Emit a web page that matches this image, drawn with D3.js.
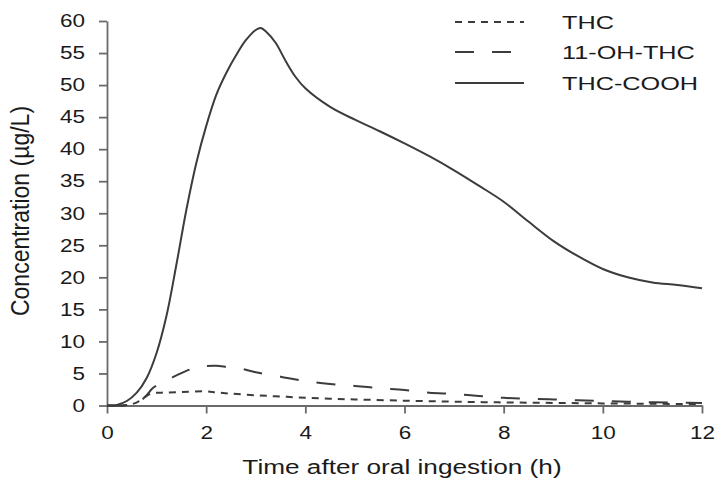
<!DOCTYPE html>
<html>
<head>
<meta charset="utf-8">
<script src="https://cdn.jsdelivr.net/npm/d3@7"></script>
<style>
  body { margin: 0; background: #fff; }
  text { font-family: "Liberation Sans", Arial, sans-serif; fill: #1a1a1a; }
</style>
</head>
<body>
<svg id="chart" width="715" height="479"></svg>
<script>
// THC-COOH (solid)
const coohTime = [0, 0.2, 0.4, 0.6, 0.8, 1.0, 1.2, 1.4, 1.6, 1.8, 2.0, 2.2, 2.4, 2.6, 2.8, 3.0, 3.1, 3.2, 3.4, 3.6, 3.8, 4.0, 4.5, 5, 5.5, 6, 6.5, 7, 7.5, 8, 8.5, 9, 9.5, 10, 10.5, 11, 11.5, 12];
const coohConc = [0, 0.1, 0.7, 2.0, 4.3, 8.2, 14.0, 22.0, 30.5, 37.8, 43.6, 48.4, 51.8, 54.6, 57.0, 58.6, 58.9, 58.4, 56.6, 53.8, 51.3, 49.5, 46.6, 44.6, 42.8, 40.9, 38.9, 36.7, 34.3, 31.8, 28.7, 25.7, 23.3, 21.3, 20.0, 19.2, 18.8, 18.3];

// THC (short dashes)
const thcTime = [0, 0.3, 0.5, 0.65, 0.8, 0.9, 1.1, 1.5, 2.0, 2.2, 2.5, 3, 3.5, 4, 4.5, 5, 6, 7, 8, 9, 10, 11, 12];
const thcConc = [0, 0, 0.2, 0.7, 1.5, 1.9, 2.0, 2.1, 2.2, 2.05, 1.85, 1.6, 1.4, 1.2, 1.05, 0.95, 0.75, 0.6, 0.48, 0.4, 0.33, 0.27, 0.2];

// 11-OH-THC (long dashes)
const ohTime = [0, 0.3, 0.5, 0.65, 0.8, 0.92, 1.1, 1.3, 1.6, 1.8, 2.0, 2.2, 2.4, 2.7, 3.0, 3.5, 4.0, 4.5, 5, 5.5, 6, 6.5, 7, 7.5, 8, 8.5, 9, 9.5, 10, 10.5, 11, 11.5, 12];
const ohConc = [0, 0, 0.2, 0.6, 1.6, 2.7, 3.5, 4.3, 5.4, 5.9, 6.15, 6.2, 6.05, 5.75, 5.2, 4.5, 3.8, 3.35, 3.05, 2.7, 2.4, 2.0, 1.8, 1.5, 1.2, 1.05, 0.95, 0.82, 0.7, 0.58, 0.5, 0.45, 0.4];

const xTicks = [0, 2, 4, 6, 8, 10, 12];
const yTicks = [0, 5, 10, 15, 20, 25, 30, 35, 40, 45, 50, 55, 60];
const seriesNames = ["THC", "11-OH-THC", "THC-COOH"];

const svg = d3.select("#chart");
const stretch = 1.25; // the picture is wider than it is tall

const x = d3.scaleLinear().domain([0, 12]).range([107, 702]);
const y = d3.scaleLinear().domain([0, 60]).range([405.5, 21]);

const axisColor = "#6a6a6a";

// Y axis
const yAxis = svg.append("g")
    .attr("transform", `translate(${x(0)},0)`)
    .call(d3.axisLeft(y).tickValues(yTicks).tickSize(8).tickSizeOuter(0).tickPadding(14));
yAxis.selectAll("text")
    .attr("x", -22 / stretch)
    .attr("transform", `scale(${stretch},1)`)
    .style("font-size", "18px");

// X axis
const xAxis = svg.append("g")
    .attr("transform", `translate(0,${y(0)})`)
    .call(d3.axisBottom(x).tickValues(xTicks).tickSize(8).tickSizeOuter(0).tickPadding(13));
xAxis.selectAll("text")
    .attr("transform", `scale(${stretch},1)`)
    .style("font-size", "18px");

svg.selectAll(".domain, .tick line")
    .attr("stroke", axisColor)
    .attr("stroke-width", 1.8);

// Axis titles
svg.append("text")
    .attr("transform", `translate(402,474) scale(1.31,1)`)
    .attr("text-anchor", "middle")
    .style("font-size", "20px")
    .text("Time after oral ingestion (h)");

svg.append("text")
    .attr("transform", `translate(29,211) rotate(-90) scale(1.15,${stretch})`)
    .attr("text-anchor", "middle")
    .style("font-size", "20px")
    .text("Concentration (µg/L)");

// Lines
const line = d3.line()
    .x(d => x(d[0]))
    .y(d => y(d[1]))
    .curve(d3.curveCatmullRom.alpha(0.5));

const series = [
    { name: seriesNames[0], pts: d3.zip(thcTime, thcConc), dash: "7,6" },
    { name: seriesNames[1], pts: d3.zip(ohTime, ohConc), dash: "19,18" },
    { name: seriesNames[2], pts: d3.zip(coohTime, coohConc), dash: null }
];

const lineColor = "#3c3c3c";

svg.selectAll("path.series")
    .data(series)
    .enter()
    .append("path")
    .attr("class", "series")
    .attr("d", d => line(d.pts))
    .attr("fill", "none")
    .attr("stroke", lineColor)
    .attr("stroke-width", 2)
    .attr("stroke-dasharray", d => d.dash);

// Legend
const legend = svg.append("g");
const rowY = [22, 52, 83];
series.forEach((s, i) => {
    legend.append("line")
        .attr("x1", 455).attr("x2", 524)
        .attr("y1", rowY[i]).attr("y2", rowY[i])
        .attr("stroke", lineColor)
        .attr("stroke-width", 2)
        .attr("stroke-dasharray", s.dash);
    legend.append("text")
        .attr("transform", `translate(562,${rowY[i] + 7}) scale(1.33,1)`)
        .style("font-size", "19px")
        .text(s.name);
});
</script>
</body>
</html>
